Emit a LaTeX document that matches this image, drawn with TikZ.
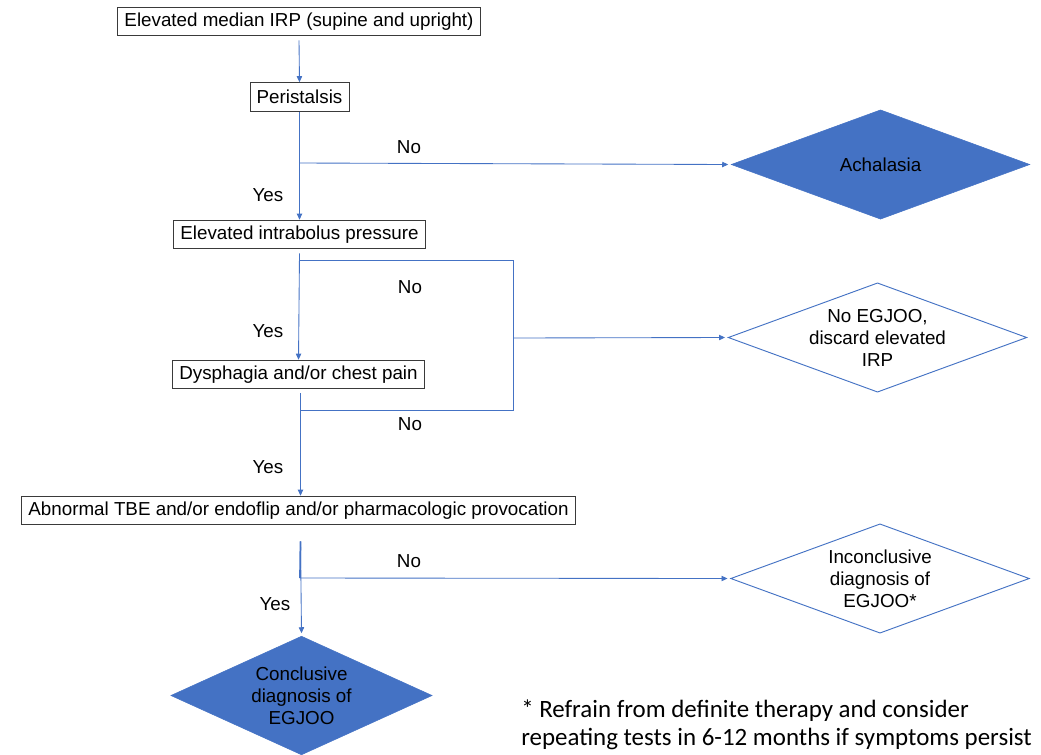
\documentclass[tikz,border=0pt]{standalone}
\usepackage{fontspec}
\setmainfont{Liberation Sans}
\newfontfamily\notefont{Carlito}
\usetikzlibrary{shapes.geometric,arrows.meta}
\definecolor{ppblue}{HTML}{4472C4}
\definecolor{boxline}{HTML}{3A3A3A}
\tikzset{
  txt/.style={font=\fontsize{14.1}{16.5}\selectfont, text=black},
  stepbox/.style={txt, draw=boxline, line width=0.7pt, fill=white, inner xsep=5pt, inner ysep=0pt, minimum height=21.5pt},
  dia/.style={diamond, inner sep=0pt, minimum width=224pt, minimum height=82pt},
  filldia/.style={dia, fill=ppblue, draw=ppblue},
  opendia/.style={dia, draw=ppblue, line width=0.7pt, fill=white},
  diatext/.style={txt, align=center, inner sep=0pt},
  conn/.style={draw=ppblue, line width=0.65pt},
  arr/.style={conn, -{Triangle[length=4.5pt,width=4pt]}},
  lbl/.style={txt},
  notetext/.style={anchor=base west, inner sep=0pt, font=\notefont\fontsize{18.7}{21}\selectfont}
}
\begin{document}
\begin{tikzpicture}[x=0.75pt,y=-0.75pt]
\useasboundingbox (0,0) rectangle (1041,754);
% boxes
\node[stepbox] (b1) at (299,21.5) {Elevated median IRP (supine and upright)};
\node[stepbox] (b2) at (299.5,97) {Peristalsis};
\node[stepbox] (b3) at (299.5,234.5) {Elevated intrabolus pressure};
\node[stepbox] (b4) at (298.5,374.5) {Dysphagia and/or chest pain};
\node[stepbox] (b5) at (298.5,510.5) {Abnormal TBE and/or endoflip and/or pharmacologic provocation};
% diamonds
\node[filldia] (ach) at (880.5,164.5) {};
\node[diatext] (acht) at (ach.center) {Achalasia};
\node[opendia] (noe) at (877.5,337.5) {};
\node[diatext] (noet) at (noe.center) {No EGJOO,\\discard elevated\\IRP};
\node[opendia] (inc) at (880,578.5) {};
\node[diatext] (inct) at (inc.center) {Inconclusive\\diagnosis of\\EGJOO*};
\node[filldia, minimum width=196pt, minimum height=89pt] (con) at (301.5,695.5) {};
\node[diatext] (cont) at (con.center) {Conclusive\\diagnosis of\\EGJOO};
% junction coordinates
\coordinate (j1) at (299.5,163);
\coordinate (j2) at (299.5,260);
\coordinate (c1) at (513,260);
\coordinate (c2) at (513,410);
\coordinate (j3) at (300,410);
\coordinate (k) at (513,338);
\coordinate (j4) at (300,578);
% main flow
\draw[arr] ([yshift=-3pt]b1.south) -- (b2.north);
\draw[arr] (b2.south) -- (b3.north);
\draw[arr] ([yshift=-3pt]b3.south) -- (b4.north);
\draw[arr] ([xshift=1.5pt,yshift=-3pt]b4.south) -- ([xshift=1.5pt]b5.north);
\draw[arr] ([xshift=1.5pt,yshift=-12pt]b5.south) -- ([yshift=2pt]con.north);
\draw[conn, line width=1.3pt] ([xshift=1.5pt,yshift=-12pt]b5.south) -- (j4);
% branches
\draw[arr] (j1) -- ([xshift=-2pt]ach.west);
\draw[conn] (j2) -- (c1) -- (c2) -- (j3);
\draw[arr] (k) -- ([xshift=-2pt]noe.west);
\draw[arr] (j4) -- ([xshift=-2pt]inc.west);
% labels
\node[lbl] (n1) at (409,147) {No};
\node[lbl] (y1) at (268,195) {Yes};
\node[lbl] (n2) at (410,287) {No};
\node[lbl] (y2) at (268,331) {Yes};
\node[lbl] (n3) at (410,424) {No};
\node[lbl] (y3) at (268,467) {Yes};
\node[lbl] (n4) at (409,561) {No};
\node[lbl] (y4) at (275,604) {Yes};
% footnote
\node[notetext] (note1) at (521,717) {* Refrain from definite therapy and consider};
\node[notetext] (note2) at (521,745) {repeating tests in 6-12 months if symptoms persist};
\end{tikzpicture}
\end{document}
